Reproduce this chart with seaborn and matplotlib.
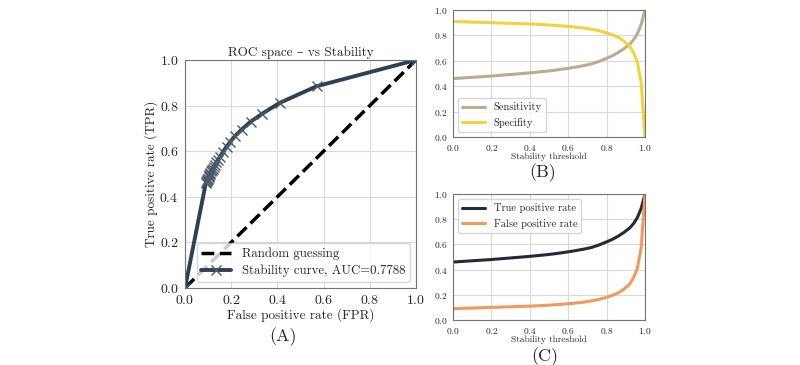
import numpy as np
import pandas as pd
import matplotlib
matplotlib.use("Agg")
import matplotlib.pyplot as plt
import seaborn as sns

# Stability thresholds and the rates
thresholds = [0.00, 0.04, 0.08, 0.12, 0.16, 0.20, 0.24, 0.28, 0.32, 0.36,
              0.40, 0.44, 0.48, 0.52, 0.56, 0.60, 0.64, 0.68, 0.72, 0.76,
              0.80, 0.83, 0.86, 0.89, 0.92, 0.94, 0.96, 0.98, 1.00]
tpr = [0.460, 0.464, 0.468, 0.472, 0.476, 0.480, 0.485, 0.490, 0.495, 0.500,
       0.505, 0.511, 0.517, 0.524, 0.532, 0.541, 0.551, 0.562, 0.575, 0.595,
       0.620, 0.640, 0.665, 0.695, 0.730, 0.765, 0.812, 0.885, 1.000]
fpr = [0.090, 0.092, 0.094, 0.096, 0.098, 0.100, 0.102, 0.104, 0.106, 0.108,
       0.110, 0.113, 0.116, 0.120, 0.124, 0.129, 0.135, 0.142, 0.151, 0.163,
       0.180, 0.195, 0.215, 0.245, 0.285, 0.335, 0.410, 0.570, 1.000]
auc_label = "0.7788"

df = pd.DataFrame({"threshold": thresholds, "tpr": tpr, "fpr": fpr})
df["spec"] = 1 - df["fpr"]
roc = pd.concat([pd.DataFrame({"fpr": [0.0], "tpr": [0.0]}), df[["fpr", "tpr"]]],
                ignore_index=True)

sns.set_style("whitegrid", {"axes.edgecolor": "0.45", "grid.color": "0.85"})
plt.rcParams["font.family"] = ["cmr10", "DejaVu Serif"]
plt.rcParams["mathtext.fontset"] = "cm"
plt.rcParams["axes.formatter.use_mathtext"] = True
plt.rcParams["axes.unicode_minus"] = False

C_ROC = "#2f4052"
C_SENS = "#b8ad90"
C_SPEC = "#f0d43c"
C_TPR = "#222a38"
C_FPR = "#f29a5c"

fig = plt.figure(figsize=(8, 3.65), dpi=100)
W, H = 800, 365


def box(x0, x1, y0, y1):
    return [x0 / W, 1 - y1 / H, (x1 - x0) / W, (y1 - y0) / H]


axA = fig.add_axes(box(185, 416, 60, 288))
axB = fig.add_axes(box(453, 645, 10, 137))
axC = fig.add_axes(box(453, 645, 194, 320))

# (A) ROC space
axA.plot([0, 1], [0, 1], "--", color="black", lw=2.5, label="Random guessing")
sns.lineplot(data=roc, x="fpr", y="tpr", ax=axA, color=C_ROC, lw=2.8,
             marker="x", markersize=6.5, mew=1.0, mec="#4a5a6a", sort=False,
             label=f"Stability curve, AUC={auc_label}")
axA.set_xlim(0, 1)
axA.set_ylim(0, 1)
axA.set_xlabel("False positive rate (FPR)", fontsize=9.5, labelpad=1)
axA.set_ylabel("True positive rate (TPR)", fontsize=9.5, labelpad=1)
axA.set_title("ROC space – vs Stability", fontsize=9.5, pad=3)
axA.tick_params(labelsize=10, pad=1)
axA.legend(loc="lower right", fontsize=9.2, handlelength=2.35,
           borderpad=0.35, labelspacing=0.35, framealpha=0.8)

# (B) sensitivity / specificity
sns.lineplot(data=df, x="threshold", y="tpr", ax=axB, color=C_SENS, lw=2.2,
             label="Sensitivity")
sns.lineplot(data=df, x="threshold", y="spec", ax=axB, color=C_SPEC, lw=2.2,
             label="Specifity")
axB.legend(loc="lower left", fontsize=7.5, handlelength=2.2, framealpha=0.8)

# (C) TPR / FPR
sns.lineplot(data=df, x="threshold", y="tpr", ax=axC, color=C_TPR, lw=2.2,
             label="True positive rate")
sns.lineplot(data=df, x="threshold", y="fpr", ax=axC, color=C_FPR, lw=2.2,
             label="False positive rate")
axC.legend(loc="upper left", fontsize=7.5, handlelength=2.2, framealpha=0.8)

for ax in (axB, axC):
    ax.set_xlim(0, 1)
    ax.set_ylim(0, 1)
    ax.set_xlabel("Stability threshold", fontsize=6.8, labelpad=0)
    ax.set_ylabel("")
    ax.tick_params(labelsize=6.8, pad=0.5)

fig.text(283 / W, 1 - 337 / H, "(A)", ha="center", va="center", fontsize=13)
fig.text(543 / W, 1 - 173 / H, "(B)", ha="center", va="center", fontsize=13)
fig.text(545 / W, 1 - 357 / H, "(C)", ha="center", va="center", fontsize=13)

fig.savefig("out.png", dpi=100)
